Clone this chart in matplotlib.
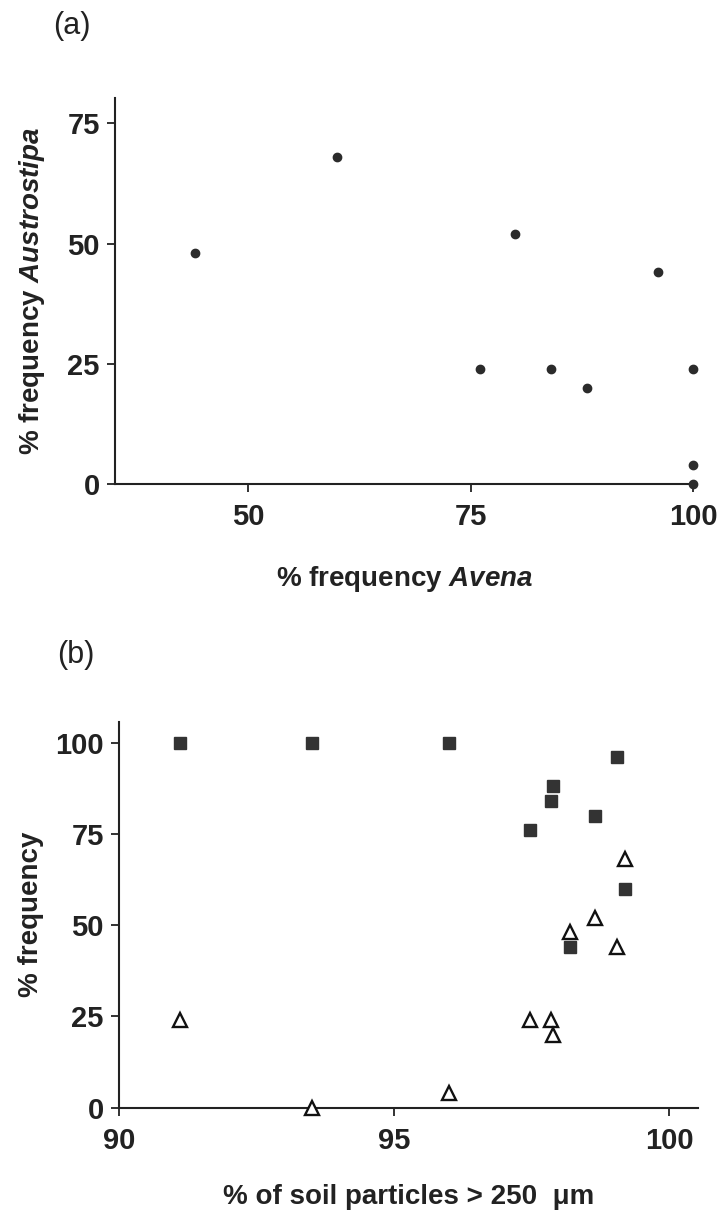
import matplotlib
matplotlib.use("Agg")
import matplotlib.pyplot as plt

# per-site frequencies (%) and soil coarse fraction (% > 250 um)
avena = [44, 60, 80, 76, 84, 88, 96, 100, 100, 100]
austrostipa = [48, 68, 52, 24, 24, 20, 44, 24, 4, 0]
soil_coarse = [98.2, 99.2, 98.65, 97.46, 97.85, 97.89, 99.05, 91.1, 96.0, 93.5]

a_xticks = [50, 75, 100]
a_yticks = [0, 25, 50, 75]
b_xticks = [90, 95, 100]
b_yticks = [0, 25, 50, 75, 100]

plt.rcParams['font.family'] = ['Liberation Sans', 'DejaVu Sans']
plt.rcParams['mathtext.fontset'] = 'custom'
plt.rcParams['mathtext.bfit'] = 'Liberation Sans:italic:bold'
plt.rcParams['mathtext.it'] = 'Liberation Sans:italic'
plt.rcParams['mathtext.bf'] = 'Liberation Sans:bold'

W, H = 719, 1217
fig = plt.figure(figsize=(W / 100, H / 100), dpi=100)
ink = '#222222'


def style_axes(ax):
    for side in ('top', 'right'):
        ax.spines[side].set_visible(False)
    for side in ('left', 'bottom'):
        ax.spines[side].set_linewidth(1.5)
        ax.spines[side].set_color(ink)
    ax.tick_params(direction='out', length=6, width=1.3, color=ink, labelsize=21)
    ax.tick_params(axis='x', pad=8)
    ax.tick_params(axis='y', pad=5)
    for lab in ax.get_xticklabels() + ax.get_yticklabels():
        lab.set_fontweight('bold')
        lab.set_color(ink)


# (a) Austrostipa vs Avena
a_left, a_right, a_top, a_bot = 115, 693.3, 98.3, 484
ax1 = fig.add_axes([a_left / W, 1 - a_bot / H, (a_right - a_left) / W, (a_bot - a_top) / H])
ax1.plot(avena, austrostipa, 'o', ms=6, color='#2b2b2b', clip_on=False, zorder=5)
ax1.set_xlim(35, 100)
ax1.set_ylim(0, 80.2)
ax1.set_xticks(a_xticks)
ax1.set_yticks(a_yticks)
style_axes(ax1)
ax1.set_xlabel(r'% frequency $\mathbfit{Avena}$', fontsize=20, fontweight='bold', color=ink)
ax1.xaxis.set_label_coords(0.5, -(564 - a_bot) / (a_bot - a_top))
ax1.set_ylabel(r'% frequency $\mathbfit{Austrostipa}$', fontsize=20, fontweight='bold', color=ink)
ax1.yaxis.set_label_coords(-(a_left - 47) / (a_right - a_left), 0.5)
fig.text(53 / W, 1 - 26 / H, '(a)', fontsize=22, va='center', ha='left', color=ink)

# (b) frequencies vs soil particle size
b_left, b_right, b_top, b_bot = 119, 698, 721.7, 1107.7
ax2 = fig.add_axes([b_left / W, 1 - b_bot / H, (b_right - b_left) / W, (b_bot - b_top) / H])
ax2.plot(soil_coarse, avena, 's', ms=9, color='#333333', clip_on=False, zorder=5)
ax2.plot(soil_coarse, austrostipa, '^', ms=9.5, mfc='white', mec='#111111', mew=1.7,
         clip_on=False, zorder=6)
ax2.set_xlim(90, 100.52)
ax2.set_ylim(0, 105.75)
ax2.set_xticks(b_xticks)
ax2.set_yticks(b_yticks)
style_axes(ax2)
ax2.set_xlabel('% of soil particles > 250  \u03bcm', fontsize=20, fontweight='bold', color=ink)
ax2.xaxis.set_label_coords(0.5, -(1184 - b_bot) / (b_bot - b_top))
ax2.set_ylabel('% frequency', fontsize=20, fontweight='bold', color=ink)
ax2.yaxis.set_label_coords(-(b_left - 44) / (b_right - b_left), 0.5)
fig.text(57 / W, 1 - 655 / H, '(b)', fontsize=22, va='center', ha='left', color=ink)

fig.savefig('out.png', dpi=100, facecolor='white')
